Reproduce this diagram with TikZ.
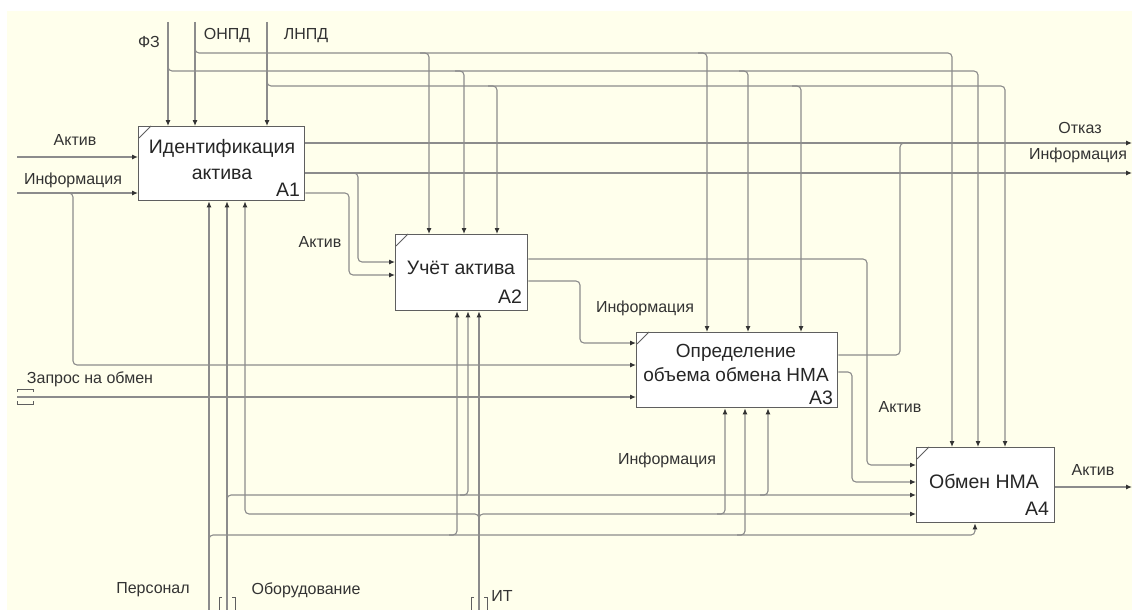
\documentclass[tikz,border=0pt]{standalone}
\usepackage{fontspec}
\setmainfont{Liberation Sans}
\usetikzlibrary{arrows.meta,calc}
\definecolor{bgc}{RGB}{255,255,236}
\definecolor{lnc}{RGB}{140,140,140}
\definecolor{bxc}{RGB}{95,95,95}
\begin{document}
\begin{tikzpicture}[x=1pt,y=-1pt,
  ln/.style={draw=lnc, line width=1.1pt, rounded corners=4pt},
  arr/.style={ln, -{Latex[length=6pt,width=5pt,color=black!80]}},
  fbox/.style={draw=bxc, line width=1.3pt, fill=white, anchor=north west, inner sep=0pt},
  lbl/.style={font=\fontsize{16}{18}\selectfont, text=black!80, inner sep=0pt},
  btxt/.style={font=\fontsize{19.5}{26}\selectfont, text=black!85, inner sep=0pt, align=center},
  tun/.style={draw=bxc, line width=0.8pt},
  tick/.style={draw=bxc, line width=0.8pt}
]
\useasboundingbox (0,0) rectangle (1132,610);
\fill[white] (0,0) rectangle (1132,610);
\fill[bgc] (7,11) rectangle (1132,610);

% boxes
\node[fbox, minimum width=166pt, minimum height=74pt] (A1) at (138,126) {};
\node[fbox, minimum width=132pt, minimum height=76pt] (A2) at (395,234) {};
\node[fbox, minimum width=201pt, minimum height=75pt] (A3) at (636,332) {};
\node[fbox, minimum width=138pt, minimum height=75pt] (A4) at (916,447) {};
\foreach \b in {A1,A2,A3,A4}{
  \draw[tick] ($(\b.north west)+(1,12)$) -- ($(\b.north west)+(13,0)$);
}
\node[btxt] (t1) at (222,160) {Идентификация\\актива};
\node[btxt] (n1) at (288,190) {A1};
\node[btxt] (t2) at (461,268) {Учёт актива};
\node[btxt] (n2) at (510,297) {A2};
\node[btxt, font=\fontsize{19}{24}\selectfont] (t3) at (736,363) {Определение\\объема обмена НМА};
\node[btxt] (n3) at (821,398) {A3};
\node[btxt] (t4) at (984,481) {Обмен НМА};
\node[btxt] (n4) at (1037,509) {A4};

% external ends
\coordinate (cFZ) at (168,22);
\coordinate (cONPD) at (195,22);
\coordinate (cLNPD) at (267,22);
\coordinate (iAktiv) at (17,157);
\coordinate (iInf) at (17,193);
\coordinate (iZapr) at (17,397);
\coordinate (oOtkaz) at (1132,143);
\coordinate (oInf) at (1132,173);
\coordinate (oAktiv) at (1132,487);
\coordinate (mPers) at (209,610);
\coordinate (mObor) at (227,610);
\coordinate (mIT) at (479,610);

% controls
\draw[arr] (cFZ) -- (cFZ |- A1.north);
\draw[arr] (cONPD) -- (cONPD |- A1.north);
\draw[arr] (cLNPD) -- (cLNPD |- A1.north);
\draw[arr] (168,60) |- (978,71) -- (978,0 |- A4.north);
\draw[arr] (455,71) -| (464,0 |- A2.north);
\draw[arr] (739,71) -| (748,0 |- A3.north);
\draw[arr] (195,43) |- (952,53) -- (952,0 |- A4.north);
\draw[arr] (420,53) -| (429,0 |- A2.north);
\draw[arr] (698,53) -| (707,0 |- A3.north);
\draw[arr] (267,76) |- (1005,86) -- (1005,0 |- A4.north);
\draw[arr] (488,86) -| (497,0 |- A2.north);
\draw[arr] (792,86) -| (801,0 |- A3.north);

% inputs
\draw[arr] (iAktiv) -- (iAktiv -| A1.west);
\draw[arr] (iInf) -- (iInf -| A1.west);
\draw[arr] (62,193) -| (73,365) -- (0,365 -| A3.west);
\draw[arr] (iZapr) -- (iZapr -| A3.west);

% A1 outputs
\draw[arr] (A1.east |- oOtkaz) -- (oOtkaz);
\draw[arr] (A1.east |- oInf) -- (oInf);
\draw[arr] (350,173) -| (358,262) -- (0,262 -| A2.west);
\draw[arr] (A1.east |- 0,193) -| (349,275) -- (0,275 -| A2.west);

% A2 outputs
\draw[arr] (A2.east |- 0,259) -| (867,465) -- (0,465 -| A4.west);
\draw[arr] (A2.east |- 0,281) -| (580,343) -- (0,343 -| A3.west);

% A3 outputs
\draw[ln] (A3.east |- 0,355) -| (900,143) -- (912,143);
\draw[arr] (A3.east |- 0,372) -| (852,482) -- (0,482 -| A4.west);

% A4 output
\draw[arr] (A4.east |- oAktiv) -- (oAktiv);

% mechanisms
\draw[arr] (mPers) -- (mPers |- A1.south);
\draw[arr] (mObor) -- (mObor |- A1.south);
\draw[arr] (mIT) -- (mIT |- A2.south);
\draw[arr] (209,546) |- (975,535) -- (975,0 |- A4.south);
\draw[arr] (449,535) -| (457,0 |- A2.south);
\draw[arr] (737,535) -| (745,0 |- A3.south);
\draw[arr] (227,505) |- (0,495 -| A4.west);
\draw[arr] (460,495) -| (468,0 |- A2.south);
\draw[arr] (760,495) -| (768,0 |- A3.south);
\draw[arr] (479,524) |- (245,514) -- (245,0 |- A1.south);
\draw[arr] (479,524) |- (0,514 -| A4.west);
\draw[arr] (717,514) -| (725,0 |- A3.south);

% tunnels
\draw[tun] (17,392) -- (17,389) -- (33,389) -- (33,392);
\draw[tun] (17,401) -- (17,404) -- (33,404) -- (33,401);
\draw[tun] (222,597) -- (219,597) -- (219,610);
\draw[tun] (232,597) -- (235,597) -- (235,610);
\draw[tun] (474,597) -- (471,597) -- (471,610);
\draw[tun] (484,597) -- (487,597) -- (487,610);

% labels
\node[lbl] (lFZ) at (149,42) {ФЗ};
\node[lbl] (lONPD) at (227,36) {ОНПД};
\node[lbl] (lLNPD) at (306,36) {ЛНПД};
\node[lbl] (lAkt1) at (75,140) {Актив};
\node[lbl] (lInf1) at (73,180) {Информация};
\node[lbl] (lAkt2) at (320,242) {Актив};
\node[lbl] (lInf2) at (645,308) {Информация};
\node[lbl] (lZapr) at (90,379) {Запрос на обмен};
\node[lbl] (lOtk) at (1080,128) {Отказ};
\node[lbl] (lInf3) at (1078,155) {Информация};
\node[lbl] (lAkt3) at (900,407) {Актив};
\node[lbl] (lInf4) at (667,460) {Информация};
\node[lbl] (lAkt4) at (1093,470) {Актив};
\node[lbl] (lPers) at (153,590) {Персонал};
\node[lbl] (lObor) at (306,590) {Оборудование};
\node[lbl] (lIT) at (502,596) {ИТ};
\end{tikzpicture}
\end{document}
